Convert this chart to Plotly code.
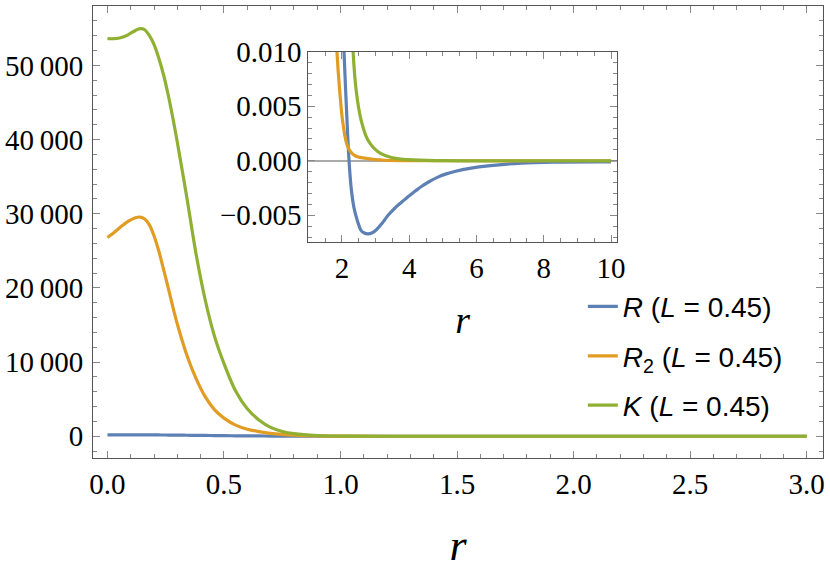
import plotly.graph_objects as go

# main panel, r from 0 to 3
r_main = [0, 0.03, 0.06, 0.09, 0.12, 0.14, 0.16, 0.18, 0.2, 0.22, 0.24, 0.26, 0.28, 0.3, 0.34, 0.38,
          0.42, 0.46, 0.5, 0.55, 0.6, 0.65, 0.7, 0.75, 0.8, 0.9, 1.0, 1.2, 1.5, 2.0, 2.5, 3.0]
R_main = [200, 200, 200, 198, 195, 192, 190, 186, 182, 176, 172, 166, 160, 152, 140, 126,
          110, 95, 80, 65, 50, 40, 30, 22, 15, 5, 0, 0, 0, 0, 0, 0]
R2_main = [26800, 27500, 28300, 29000, 29450, 29550, 29300, 28500, 27000, 25000, 22600, 20100, 17500, 15100,
           11000, 7800, 5300, 3550, 2450, 1500, 950, 630, 400, 250, 150, 50, 15, 0, 0, 0, 0, 0]
K_main = [53600, 53600, 53750, 54150, 54700, 54950, 54800, 54000, 52800, 51000, 48800, 46100, 43000, 39600,
          32300, 24600, 18300, 13400, 9800, 6100, 3700, 2200, 1200, 650, 350, 100, 30, 5, 0, 0, 0, 0]

# inset, r from 1 to 10
r_in_R = [2.02, 2.06, 2.13, 2.21, 2.28, 2.35, 2.42, 2.5, 2.57, 2.65, 2.77, 2.9, 3.03, 3.2, 3.37,
          3.55, 3.77, 4.0, 4.17, 4.36, 4.6, 4.85, 5.1, 5.35, 5.84, 6.34, 7.33, 8.3, 10]
R_in = [0.014, 0.010, 0.005, 0.0, -0.0027, -0.0042, -0.0051, -0.0059, -0.0064, -0.0066, -0.0067,
        -0.0066, -0.0063, -0.0057, -0.0050, -0.0044, -0.0038, -0.0032, -0.0028, -0.00236, -0.0019,
        -0.0015, -0.0012, -0.00098, -0.00067, -0.00046, -0.00021, -0.00012, -0.0001]
r_in_R2 = [1.8, 1.85, 1.93, 2.03, 2.17, 2.37, 2.77, 3.27, 4, 6, 8, 10]
R2_in = [0.014, 0.010, 0.0065, 0.0034, 0.0013, 0.0005, 0.0002, 0.00005, 0.00001, 0, 0, 0]
r_in_K = [2.28, 2.33, 2.42, 2.57, 2.77, 3.07, 3.47, 3.97, 5, 7, 10]
K_in = [0.014, 0.010, 0.0065, 0.0037, 0.0019, 0.00083, 0.0003, 0.0001, 0.00001, 0, 0]

names = ["<i>R</i> (<i>L</i> = 0.45)",
         "<i>R</i><sub>2</sub> (<i>L</i> = 0.45)",
         "<i>K</i> (<i>L</i> = 0.45)"]
colors = ["#5E81B5", "#E19C24", "#8FB032"]

SERIF = "Liberation Serif, Times New Roman, serif"
FRAME = "#555555"
TICK = "#888888"

fig = go.Figure()

for i, ys in enumerate([R_main, R2_main, K_main]):
    fig.add_trace(go.Scatter(x=r_main, y=ys, mode="lines", name=names[i],
                             legendgroup=str(i),
                             line=dict(color=colors[i], width=3.2, shape="spline", smoothing=1.0)))

inset = [(r_in_R, R_in), (r_in_R2, R2_in), (r_in_K, K_in)]
for i, (xs, ys) in enumerate(inset):
    fig.add_trace(go.Scatter(x=xs, y=ys, mode="lines", showlegend=False,
                             xaxis="x2", yaxis="y2",
                             line=dict(color=colors[i], width=3.2, shape="spline", smoothing=1.0)))

axis_common = dict(showline=True, linecolor=FRAME, linewidth=1, mirror="ticks",
                   ticks="inside", tickcolor=TICK, ticklen=7, showgrid=False,
                   automargin=False,
                   tickfont=dict(family=SERIF, size=29, color="black"))

fig.update_layout(
    width=830, height=574,
    margin=dict(l=93, r=7, t=6, b=116),
    plot_bgcolor="white", paper_bgcolor="white",
    separators=".\u2009",
    xaxis=dict(range=[-0.062, 3.07], tickvals=[0, 0.5, 1, 1.5, 2, 2.5, 3], tickformat=".1f",
               minor=dict(dtick=0.1, ticklen=4, tickcolor=TICK, ticks="inside"),
               zeroline=False, ticklabelstandoff=0,
               title=dict(text="<i>r</i>", font=dict(family=SERIF, size=44, color="black"),
                          standoff=30),
               **axis_common),
    yaxis=dict(range=[-2930, 58000], dtick=10000, tickformat=",d",
               minor=dict(dtick=2000, ticklen=4, tickcolor=TICK, ticks="inside"),
               zeroline=False, ticklabelstandoff=3,
               **axis_common),
    xaxis2=dict(domain=[0.295, 0.718], anchor="y2", range=[1.0, 10.18], dtick=2,
                minor=dict(dtick=0.5, ticklen=4, tickcolor=TICK, ticks="inside"),
                zeroline=False, ticklabelstandoff=0,
                title=dict(text="<i>r</i>", font=dict(family=SERIF, size=38, color="black"),
                           standoff=23),
                **axis_common),
    yaxis2=dict(domain=[0.477, 0.899], anchor="x2", range=[-0.00748, 0.010], dtick=0.005,
                tickformat=".3f",
                minor=dict(dtick=0.001, ticklen=4, tickcolor=TICK, ticks="inside"),
                zeroline=True, zerolinecolor="#aaaaaa", zerolinewidth=1.5,
                ticklabelstandoff=0,
                **axis_common),
    showlegend=True,
    legend=dict(x=0.671, y=0.39, xanchor="left", yanchor="top",
                bgcolor="rgba(0,0,0,0)", tracegroupgap=10,
                font=dict(family="Liberation Sans, Arial, sans-serif", size=28, color="black")),
)

fig.write_html("out.html", config={"displayModeBar": False},
               post_script="document.body.style.margin='0';")
